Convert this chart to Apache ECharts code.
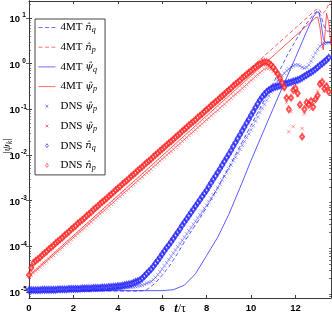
<!DOCTYPE html>
<html>
<head>
<meta charset="utf-8">
<script src="https://cdn.jsdelivr.net/npm/echarts@6/dist/echarts.min.js"></script>
<style>
  html, body { margin: 0; padding: 0; background: #fff; }
  #chart { width: 332px; height: 324px; }
</style>
</head>
<body>
<div id="chart"></div>
<script>
// axis ticks
const xTicks = [0, 2, 4, 6, 8, 10, 12];
const yTicks = [1e-5, 1e-4, 1e-3, 1e-2, 1e-1, 1e0, 1e1];
const yMin = 7.4e-6, yMax = 23.4;
// minor log ticks 2..9 x each decade
const yMinorTicks = [];
[1e-6, 1e-5, 1e-4, 1e-3, 1e-2, 1e-1, 1e0, 1e1].forEach(d => {
  [2, 3, 4, 5, 6, 7, 8, 9].forEach(m => {
    const v = m * d;
    if (v > yMin && v < yMax) yMinorTicks.push(v);
  });
});

// DNS samples every 0.1 tau, values stored as log10 |psi_k|
const dnsStep = 0.1;
const dnsNpLog = [ // red diamonds
  -4.63,-4.47,-4.36,-4.32,-4.28,-4.24,-4.19,-4.15,-4.11,-4.06,
  -4.02,-3.98,-3.93,-3.89,-3.85,-3.81,-3.76,-3.72,-3.68,-3.63,
  -3.59,-3.55,-3.50,-3.46,-3.42,-3.38,-3.33,-3.29,-3.25,-3.20,
  -3.16,-3.12,-3.07,-3.03,-2.99,-2.95,-2.90,-2.86,-2.82,-2.77,
  -2.73,-2.69,-2.64,-2.60,-2.56,-2.52,-2.47,-2.43,-2.39,-2.34,
  -2.30,-2.26,-2.21,-2.17,-2.13,-2.09,-2.04,-2.00,-1.96,-1.91,
  -1.87,-1.83,-1.78,-1.74,-1.70,-1.66,-1.61,-1.57,-1.53,-1.48,
  -1.44,-1.40,-1.35,-1.31,-1.27,-1.23,-1.18,-1.14,-1.10,-1.05,
  -1.01,-0.97,-0.92,-0.88,-0.84,-0.80,-0.75,-0.71,-0.67,-0.62,
  -0.58,-0.54,-0.49,-0.45,-0.41,-0.37,-0.32,-0.28,-0.24,-0.20,
  -0.16,-0.12,-0.08,-0.04,-0.01,0.02,0.03,0.03,0.01,-0.03,
  -0.08,-0.15,-0.23,-0.32,-0.42,-0.52,-0.75,-1.00,-0.75,-0.58,
  -0.54,-0.65,-0.90,-1.60,-1.00,-0.85,-0.90,-0.82,-0.95,-0.78,
  -0.70,-0.45,-0.40,-0.55,-0.50,-0.62
];
const dnsPpLog = [ // red crosses
  -4.64,-4.63,-4.58,-4.54,-4.50,-4.46,-4.41,-4.37,-4.33,-4.28,
  -4.24,-4.20,-4.15,-4.11,-4.07,-4.03,-3.98,-3.94,-3.90,-3.85,
  -3.81,-3.77,-3.72,-3.68,-3.64,-3.60,-3.55,-3.51,-3.47,-3.42,
  -3.38,-3.34,-3.29,-3.25,-3.21,-3.17,-3.12,-3.08,-3.04,-2.99,
  -2.95,-2.91,-2.86,-2.82,-2.78,-2.74,-2.69,-2.65,-2.61,-2.56,
  -2.52,-2.48,-2.43,-2.39,-2.35,-2.31,-2.26,-2.22,-2.18,-2.13,
  -2.09,-2.05,-2.00,-1.96,-1.92,-1.88,-1.83,-1.79,-1.75,-1.70,
  -1.66,-1.62,-1.57,-1.53,-1.49,-1.45,-1.40,-1.36,-1.32,-1.27,
  -1.23,-1.19,-1.14,-1.10,-1.06,-1.02,-0.97,-0.93,-0.89,-0.84,
  -0.80,-0.76,-0.71,-0.67,-0.63,-0.59,-0.54,-0.50,-0.46,-0.41,
  -0.37,-0.33,-0.28,-0.24,-0.20,-0.16,-0.12,-0.10,-0.10,-0.13,
  -0.17,-0.22,-0.28,-0.34,-0.42,-0.55,-0.85,-1.49,-1.05,-1.38,
  -0.62,-0.70,-0.95,-1.42,-1.10,-0.95,-0.85,-1.00,-0.90,-0.80,
  -0.60,-0.42,-0.48,-0.60,-0.45,-0.55
];
const dnsNqLog = [ // blue diamonds
  -4.96,-4.96,-4.96,-4.96,-4.96,-4.96,-4.95,-4.95,-4.95,-4.95,
  -4.95,-4.95,-4.95,-4.94,-4.94,-4.94,-4.94,-4.94,-4.93,-4.93,
  -4.93,-4.93,-4.93,-4.93,-4.92,-4.92,-4.92,-4.92,-4.92,-4.91,
  -4.91,-4.91,-4.91,-4.90,-4.90,-4.90,-4.89,-4.89,-4.88,-4.88,
  -4.87,-4.87,-4.86,-4.85,-4.84,-4.83,-4.82,-4.80,-4.78,-4.76,
  -4.74,-4.70,-4.65,-4.60,-4.55,-4.50,-4.44,-4.37,-4.31,-4.24,
  -4.17,-4.10,-4.03,-3.97,-3.90,-3.83,-3.76,-3.69,-3.62,-3.54,
  -3.47,-3.40,-3.33,-3.26,-3.19,-3.12,-3.05,-2.98,-2.91,-2.84,
  -2.77,-2.69,-2.61,-2.53,-2.46,-2.38,-2.30,-2.22,-2.14,-2.06,
  -1.98,-1.90,-1.81,-1.73,-1.64,-1.56,-1.47,-1.39,-1.30,-1.22,
  -1.13,-1.05,-0.96,-0.88,-0.80,-0.73,-0.67,-0.62,-0.58,-0.55,
  -0.53,-0.51,-0.50,-0.48,-0.47,-0.45,-0.44,-0.42,-0.41,-0.39,
  -0.38,-0.36,-0.34,-0.31,-0.28,-0.25,-0.22,-0.19,-0.16,-0.12,
  -0.08,-0.04,0.00,0.04,0.08,0.13
];
const dnsPqLog = [ // blue crosses
  -4.98,-4.98,-4.98,-4.98,-4.98,-4.98,-4.98,-4.98,-4.98,-4.98,
  -4.98,-4.98,-4.98,-4.98,-4.97,-4.97,-4.97,-4.97,-4.97,-4.97,
  -4.97,-4.97,-4.96,-4.96,-4.96,-4.96,-4.96,-4.96,-4.95,-4.95,
  -4.95,-4.95,-4.95,-4.94,-4.94,-4.94,-4.94,-4.93,-4.93,-4.93,
  -4.92,-4.92,-4.91,-4.91,-4.90,-4.90,-4.89,-4.89,-4.88,-4.87,
  -4.86,-4.85,-4.83,-4.81,-4.79,-4.77,-4.73,-4.68,-4.62,-4.56,
  -4.50,-4.43,-4.36,-4.29,-4.22,-4.15,-4.08,-4.01,-3.94,-3.87,
  -3.80,-3.73,-3.66,-3.59,-3.52,-3.45,-3.38,-3.31,-3.24,-3.17,
  -3.10,-3.02,-2.95,-2.87,-2.80,-2.72,-2.64,-2.55,-2.47,-2.38,
  -2.30,-2.22,-2.13,-2.05,-1.96,-1.88,-1.79,-1.71,-1.62,-1.54,
  -1.45,-1.36,-1.26,-1.17,-1.07,-0.98,-0.89,-0.80,-0.71,-0.62,
  -0.53,-0.45,-0.38,-0.32,-0.26,-0.21,-0.16,-0.12,-0.08,-0.05,
  -0.03,-0.03,-0.05,-0.08,-0.10,-0.08,-0.03,0.05,0.14,0.23,
  0.31,0.38,0.42,0.44,0.45,0.46
];

// 4MT model curves (t, log10 value)
const mtNqT   = [0, 5.0, 5.3, 5.7, 6.0, 6.3, 6.7, 7.05, 7.65, 8.2, 9.1, 10.0, 11.0, 11.65, 12.3, 12.85, 13.0, 13.15, 13.3, 13.45, 13.6];
const mtNqLog = [-4.97, -4.98, -4.95, -4.80, -4.63, -4.45, -4.15, -3.86, -3.42, -2.98, -2.18, -1.35, -0.43, 0.20, 0.75, 1.10, 1.15, 1.05, 0.80, 0.70, 0.75];
const mtNpT   = [0, 0.15, 12.9, 13.05, 13.2, 13.35, 13.6];
const mtNpLog = [-4.63, -4.38, 1.17, 1.20, 1.08, 1.15, 1.40];
const mtPqT   = [0, 6.0, 6.5, 7.0, 7.5, 8.0, 8.5, 9.0, 9.5, 10.0, 10.5, 11.0, 11.5, 12.0, 12.5, 12.8, 12.95, 13.05, 13.15, 13.25, 13.35, 13.6];
const mtPqLog = [-4.97, -4.97, -4.95, -4.85, -4.60, -4.20, -3.80, -3.30, -2.72, -2.12, -1.55, -0.98, -0.42, 0.13, 0.70, 1.02, 1.12, 1.13, 0.90, 0.55, 0.46, 0.47];
const mtPpT   = [0, 12.9, 13.0, 13.1, 13.2, 13.25, 13.32, 13.4, 13.5, 13.6];
const mtPpLog = [-4.64, 1.00, 1.02, 0.80, 0.40, 0.30, 0.60, 1.10, 0.90, 0.40];

const RED = '#ff1a1a', BLUE = '#1a1aff';

const pairs = (ts, logs) => ts.map((t, i) => [t, Math.pow(10, logs[i])]);
const dnsPairs = logs => logs.map((v, i) => [+(i * dnsStep).toFixed(2), Math.pow(10, v)]);

const crossPath = 'path://M0,0L10,10M10,0L0,10';
// legend icons: padded to the 17x10 legend slot so each mark keeps its own size
const crossIcon = 'path://M0,0M170,100M72,37L98,63M98,37L72,63';
const diamondIcon = 'path://M0,0M170,100M85,30L99,50L85,70L71,50Z';
const solidIcon = 'path://M0,0M170,100M0,50L170,50';
const dashedIcon = 'path://M0,0M170,100M0,50L40,50M65,50L105,50M130,50L170,50';

const legendLabels = {
  'mtNq': '{u|4MT }{i|n\u0302}{s|q}',
  'mtNp': '{u|4MT }{i|n\u0302}{s|p}',
  'mtPq': '{u|4MT }{i|\u03c8\u0302}{s|q}',
  'mtPp': '{u|4MT }{i|\u03c8\u0302}{s|p}',
  'dnsPq': '{u|DNS }{i|\u03c8\u0302}{s|p}',
  'dnsPp': '{u|DNS }{i|\u03c8\u0302}{s|p}',
  'dnsNq': '{u|DNS }{i|n\u0302}{s|q}',
  'dnsNp': '{u|DNS }{i|n\u0302}{s|p}'
};

const serif = 'Liberation Serif';
const mathSerif = 'DejaVu Serif';
const axisColor = '#3a3a3a';

const chart = echarts.init(document.getElementById('chart'));

const lineSeries = (name, ts, logs, color, dashed) => ({
  name: name,
  type: 'line',
  data: pairs(ts, logs),
  symbol: 'none',
  showSymbol: false,
  lineStyle: { color: color, width: 0.9, opacity: 0.8, type: dashed ? [4, 2.5] : 'solid' },
  itemStyle: { color: color },
  z: 2
});

const markerSeries = (name, logs, color, symbol, size) => ({
  name: name,
  type: 'scatter',
  data: dnsPairs(logs),
  symbol: symbol,
  symbolSize: size,
  itemStyle: { color: symbol === crossPath ? 'rgba(0,0,0,0)' : color, borderColor: color, borderWidth: 0.6, opacity: 0.75 },
  z: 3
});

const legendItem = (name, icon, color) => ({
  name: name, icon: icon,
  itemStyle: { color: 'rgba(0,0,0,0)', borderColor: color, borderWidth: 0.9, opacity: 0.7 }
});

// right-hand and minor-tick axes carry ticks only
const tickOnlyY = (position, ticks, len) => ({
  type: 'log', logBase: 10, min: yMin, max: yMax, position: position,
  axisLine: { show: position === 'right', lineStyle: { color: axisColor, width: 1 } },
  axisTick: { show: true, inside: true, length: len, customValues: ticks, lineStyle: { color: axisColor, width: 0.8 } },
  axisLabel: { show: false },
  splitLine: { show: false }
});

const option = {
  animation: false,
  backgroundColor: '#fff',
  grid: { left: 29, right: 1, top: 1, bottom: 26, outerBoundsMode: 'none' },
  graphic: [{
    type: 'text', x: 7, y: 146, rotation: Math.PI / 2,
    style: {
      text: '{b||}{i|\u03c8}{s|k}{b||}',
      align: 'center', verticalAlign: 'middle',
      rich: {
        b: { fontSize: 11, fontFamily: serif, fill: '#000' },
        i: { fontSize: 11, fontStyle: 'italic', fontFamily: serif, fill: '#000' },
        s: { fontSize: 8, fontStyle: 'italic', fontFamily: serif, fill: '#000', padding: [5, 0, 0, 0] }
      }
    }
  }],
  xAxis: [
    {
      type: 'value', min: 0, max: 13.6, position: 'bottom',
      axisLine: { lineStyle: { color: axisColor, width: 1 } },
      axisTick: { inside: true, length: 3, customValues: xTicks, lineStyle: { color: axisColor } },
      axisLabel: { customValues: xTicks, margin: 5, fontSize: 9.5, fontWeight: 'bold', color: '#000', fontFamily: 'Liberation Sans' },
      splitLine: { show: false },
      name: '{t|t}{r|/\u03c4}',
      nameLocation: 'middle', nameGap: 4, nameMoveOverlap: false,
      nameTextStyle: {
        fontSize: 12,
        rich: {
          t: { fontSize: 12.5, fontWeight: 'bold', fontStyle: 'italic', fontFamily: 'Liberation Serif', color: '#000' },
          r: { fontSize: 12, fontFamily: 'Liberation Serif', color: '#000' }
        }
      }
    },
    {
      type: 'value', min: 0, max: 13.6, position: 'top',
      axisLine: { lineStyle: { color: axisColor, width: 1 } },
      axisTick: { inside: true, length: 3, customValues: xTicks, lineStyle: { color: axisColor } },
      axisLabel: { show: false },
      splitLine: { show: false }
    }
  ],
  yAxis: [
    {
      type: 'log', logBase: 10, min: yMin, max: yMax, position: 'left',
      axisLine: { show: true, lineStyle: { color: axisColor, width: 1 } },
      axisTick: { show: true, inside: true, length: 3, customValues: yTicks, lineStyle: { color: axisColor } },
      axisLabel: {
        customValues: yTicks, margin: 1, color: '#000',
        formatter: v => '{b|10}{e|' + Math.round(Math.log10(v)) + '}',
        rich: {
          b: { fontSize: 9.5, fontWeight: 'bold', fontFamily: 'Liberation Sans', color: '#000', padding: [3, 0, 0, 0] },
          e: { fontSize: 6.5, fontWeight: 'bold', fontFamily: 'Liberation Sans', color: '#000', width: 8, align: 'left', padding: [0, 0, 5, 0] }
        }
      },
      splitLine: { show: false }
    },
    tickOnlyY('right', yTicks, 3),
    tickOnlyY('left', yMinorTicks, 1.8),
    tickOnlyY('right', yMinorTicks, 1.8)
  ],
  legend: {
    orient: 'vertical', left: 35, top: 19,
    padding: [2, 8, 3, 3],
    itemWidth: 17, itemHeight: 10, itemGap: 6.7, itemTextGap: 1,
    backgroundColor: '#fff', borderColor: '#444', borderWidth: 1,
    selectedMode: false,
    data: [
      legendItem('mtNq', dashedIcon, BLUE),
      legendItem('mtNp', dashedIcon, RED),
      legendItem('mtPq', solidIcon, BLUE),
      legendItem('mtPp', solidIcon, RED),
      legendItem('dnsPq', crossIcon, BLUE),
      legendItem('dnsPp', crossIcon, RED),
      legendItem('dnsNq', diamondIcon, BLUE),
      legendItem('dnsNp', diamondIcon, RED)
    ],
    formatter: name => legendLabels[name],
    textStyle: {
      rich: {
        u: { fontSize: 11, fontFamily: serif, color: '#000', lineHeight: 14 },
        i: { fontSize: 10, fontStyle: 'italic', fontFamily: mathSerif, color: '#000', lineHeight: 14 },
        s: { fontSize: 8, fontStyle: 'italic', fontFamily: serif, color: '#000', lineHeight: 14, padding: [5, 0, 0, 0] }
      }
    }
  },
  series: [
    lineSeries('mtNq', mtNqT, mtNqLog, BLUE, true),
    lineSeries('mtNp', mtNpT, mtNpLog, RED, true),
    lineSeries('mtPq', mtPqT, mtPqLog, BLUE, false),
    lineSeries('mtPp', mtPpT, mtPpLog, RED, false),
    markerSeries('dnsPq', dnsPqLog, BLUE, crossPath, 3.5),
    markerSeries('dnsPp', dnsPpLog, RED, crossPath, 3.5),
    markerSeries('dnsNq', dnsNqLog, BLUE, 'emptyDiamond', [4, 5.5]),
    markerSeries('dnsNp', dnsNpLog, RED, 'emptyDiamond', [4, 5.5])
  ]
};

chart.setOption(option);
</script>
</body>
</html>
